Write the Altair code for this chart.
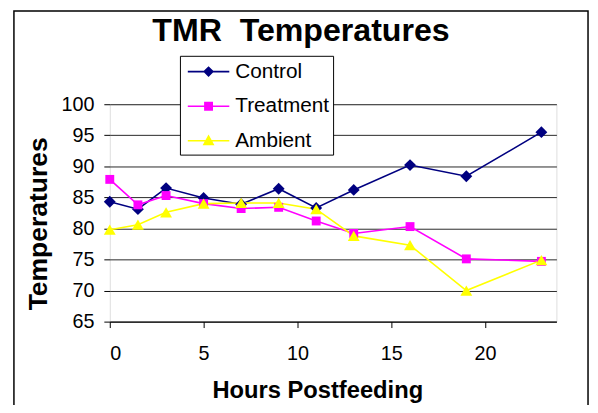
import altair as alt
import pandas as pd

# ---- data ----
hours = [0, 1.5, 3, 5, 7, 9, 11, 13, 16, 19, 23]
control = [84.3, 83.1, 86.5, 84.9, 83.9, 86.4, 83.3, 86.2, 90.2, 88.4, 95.5]
treatment = [87.9, 83.8, 85.3, 84.0, 83.2, 83.4, 81.2, 79.2, 80.3, 75.1, 74.7]
ambient = [79.8, 80.6, 82.6, 84.0, 84.1, 84.1, 83.1, 78.8, 77.3, 70.0, 74.9]
series_names = ["Control", "Treatment", "Ambient"]
series_colors = ["#000080", "#FF00FF", "#FFFF00"]
series_shapes = ["diamond", "square", "triangle-up"]
series_sizes = [144, 81, 144]
y_ticks = [65, 70, 75, 80, 85, 90, 95, 100]
x_ticks = [0, 5, 10, 15, 20]

rows = []
for name, vals in zip(series_names, [control, treatment, ambient]):
    for h, v in zip(hours, vals):
        rows.append({"hours": h, "temp": v, "series": name})
df = pd.DataFrame(rows)

FONT = "Liberation Sans"

x_enc = alt.X(
    "hours:Q",
    scale=alt.Scale(domain=[0, 23.8], nice=False, zero=False),
    axis=alt.Axis(
        values=x_ticks, tickCount=10, title="Hours Postfeeding", grid=False, labelOverlap=False,
        labelFont=FONT, labelFontSize=20, labelColor="black", labelPadding=16,
        tickSize=6, tickColor="black", domainColor="black", domainWidth=1,
        titleFont=FONT, titleFontSize=24, titleFontWeight="bold", titleColor="black",
        titleX=210, titleY=77, titleBaseline="alphabetic", titleAlign="center",
    ),
)
y_enc = alt.Y(
    "temp:Q",
    scale=alt.Scale(domain=[65, 100], nice=False, zero=False),
    axis=alt.Axis(
        values=y_ticks, tickCount=20, title="Temperatures", grid=True, gridColor="black",
        gridWidth=1, gridOpacity=0.85, domain=False, labelOverlap=False,
        labelFont=FONT, labelFontSize=20, labelColor="black", labelPadding=10,
        tickSize=6, tickColor="black",
        titleFont=FONT, titleFontSize=26.8, titleFontWeight="bold", titleColor="black",
        titleAngle=270, titleX=-64.5, titleY=120.5, titleBaseline="alphabetic",
        titleAlign="center",
    ),
)

color_scale = alt.Scale(domain=series_names, range=series_colors)

# legend glyphs: a line segment with the series marker on it
legend_paths = [
    "M-0.67,-0.067H2.83V0.067H-0.67ZM1.08,-0.46L1.54,0L1.08,0.46L0.62,0Z",
    "M-0.67,-0.067H2.83V0.067H-0.67ZM0.705,-0.375H1.455V0.375H0.705Z",
    "M-0.67,-0.067H2.83V0.067H-0.67ZM1.08,-0.52L1.58,0.37L0.58,0.37Z",
]
leg = alt.Legend(
    title=None, orient="none", legendX=71, legendY=-49,
    fillColor="white", strokeColor="black", padding=4,
    labelFont=FONT, labelFontSize=21, labelColor="black", labelOffset=28,
    rowPadding=13, symbolSize=576, symbolOpacity=1, symbolStrokeWidth=0,
)

legend_layer = alt.Chart(df).mark_point(filled=True, clip=True, opacity=1, size=576).encode(
    x=x_enc, y=y_enc,
    color=alt.Color("series:N", scale=color_scale, legend=leg),
    shape=alt.Shape("series:N", scale=alt.Scale(domain=series_names, range=legend_paths), legend=leg),
    opacity=alt.value(0),
)

lines = alt.Chart(df).mark_line(strokeWidth=1.6).encode(
    x="hours:Q", y="temp:Q",
    color=alt.Color("series:N", scale=color_scale),
)

point_layers = []
for name, col, shp, sz in zip(series_names, series_colors, series_shapes, series_sizes):
    point_layers.append(
        alt.Chart(df).transform_filter(alt.datum.series == name)
        .mark_point(filled=True, opacity=1, shape=shp, size=sz, color=col)
        .encode(x="hours:Q", y="temp:Q")
    )

border = alt.Chart(pd.DataFrame({"b": [0]})).mark_rect(
    fillOpacity=0, stroke="black", strokeWidth=1.5, clip=False
).encode(x=alt.value(-97), x2=alt.value(484), y=alt.value(-94.25), y2=alt.value(310))

chart = alt.layer(legend_layer, border, lines, *point_layers).properties(
    width=452, height=220,
    autosize=alt.AutoSizeParams(type="none"),
    padding={"left": 103, "top": 95, "right": 34, "bottom": 82},
    title=alt.TitleParams(
        "TMR \u00a0Temperatures", font=FONT, fontSize=32.5, fontWeight="bold",
        color="black", anchor="middle", orient="none", dx=193.5, dy=-64,
        baseline="alphabetic",
    ),
).configure_view(
    fill="#C0C0C0", stroke="#808080", strokeWidth=2
).configure(background="white")

chart.save("out.html", embed_options={"renderer": "svg", "actions": False})
